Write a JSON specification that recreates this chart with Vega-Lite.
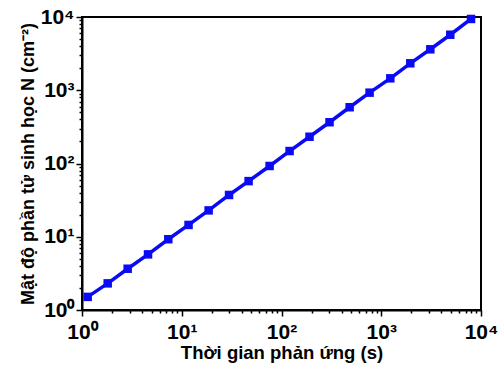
{
  "$schema": "https://vega.github.io/schema/vega-lite/v6.json",
  "width": 399,
  "height": 293,
  "autosize": "none",
  "padding": {"left": 82, "top": 17, "right": 21, "bottom": 61},
  "background": "white",
  "config": {
    "view": {"stroke": "black", "strokeWidth": 2},
    "font": "Liberation Sans"
  },
  "data": {
    "values": [
      {"t": 1.14, "N": 1.51},
      {"t": 1.81, "N": 2.31},
      {"t": 2.87, "N": 3.66},
      {"t": 4.59, "N": 5.75},
      {"t": 7.33, "N": 9.25},
      {"t": 11.7, "N": 14.5},
      {"t": 18.6, "N": 22.9},
      {"t": 29.8, "N": 37.2},
      {"t": 46.8, "N": 57.5},
      {"t": 76.0, "N": 92.5},
      {"t": 120.5, "N": 148},
      {"t": 191, "N": 232},
      {"t": 303, "N": 366},
      {"t": 482, "N": 586},
      {"t": 764, "N": 927},
      {"t": 1233, "N": 1455},
      {"t": 1955, "N": 2333},
      {"t": 3104, "N": 3622},
      {"t": 4920, "N": 5728},
      {"t": 7943, "N": 9400}
    ]
  },
  "mark": {"type": "line", "color": "#0a0af5", "strokeWidth": 3.5, "point": {"shape": "square", "size": 72, "color": "#0a0af5", "filled": true, "opacity": 1}},
  "encoding": {
    "x": {
      "field": "t",
      "type": "quantitative",
      "scale": {"type": "log", "domain": [1, 10000], "nice": false},
      "axis": {
        "title": "Thời gian phản ứng (s)",
        "titleFontSize": 18.5,
        "titleFontWeight": "bold",
        "titleColor": "black",
        "titlePadding": 1,
        "values": [1,2,3,4,5,6,7,8,9,10,20,30,40,50,60,70,80,90,100,200,300,400,500,600,700,800,900,1000,2000,3000,4000,5000,6000,7000,8000,9000,10000],
        "labelExpr": "abs(log(datum.value)/LN10 - round(log(datum.value)/LN10)) < 1e-6 ? '10' + ['⁰','¹','²','³','⁴'][round(log(datum.value)/LN10)] : ''",
        "labelOverlap": false,
        "labelFontSize": 21,
        "labelFontWeight": "bold",
        "labelColor": "black",
        "labelPadding": 5,
        "labelFlush": false,
        "tickColor": "black",
        "tickWidth": 1.5,
        "tickSize": {"condition": {"test": "abs(log(datum.value)/LN10 - round(log(datum.value)/LN10)) < 1e-6", "value": 6}, "value": 3},
        "domainColor": "black",
        "domainWidth": 2,
        "grid": false
      }
    },
    "y": {
      "field": "N",
      "type": "quantitative",
      "scale": {"type": "log", "domain": [1, 10000], "nice": false},
      "axis": {
        "title": "Mật độ phần tử sinh học N (cm⁻²)",
        "titleFontSize": 18,
        "titleFontWeight": "bold",
        "titleColor": "black",
        "titlePadding": 3,
        "values": [1,2,3,4,5,6,7,8,9,10,20,30,40,50,60,70,80,90,100,200,300,400,500,600,700,800,900,1000,2000,3000,4000,5000,6000,7000,8000,9000,10000],
        "labelExpr": "abs(log(datum.value)/LN10 - round(log(datum.value)/LN10)) < 1e-6 ? '10' + ['⁰','¹','²','³','⁴'][round(log(datum.value)/LN10)] : ''",
        "labelOverlap": false,
        "labelFontSize": 21,
        "labelFontWeight": "bold",
        "labelColor": "black",
        "labelPadding": 2,
        "labelFlush": false,
        "tickColor": "black",
        "tickWidth": 1.5,
        "tickSize": {"condition": {"test": "abs(log(datum.value)/LN10 - round(log(datum.value)/LN10)) < 1e-6", "value": 6}, "value": 3},
        "domainColor": "black",
        "domainWidth": 2,
        "grid": false
      }
    }
  }
}
